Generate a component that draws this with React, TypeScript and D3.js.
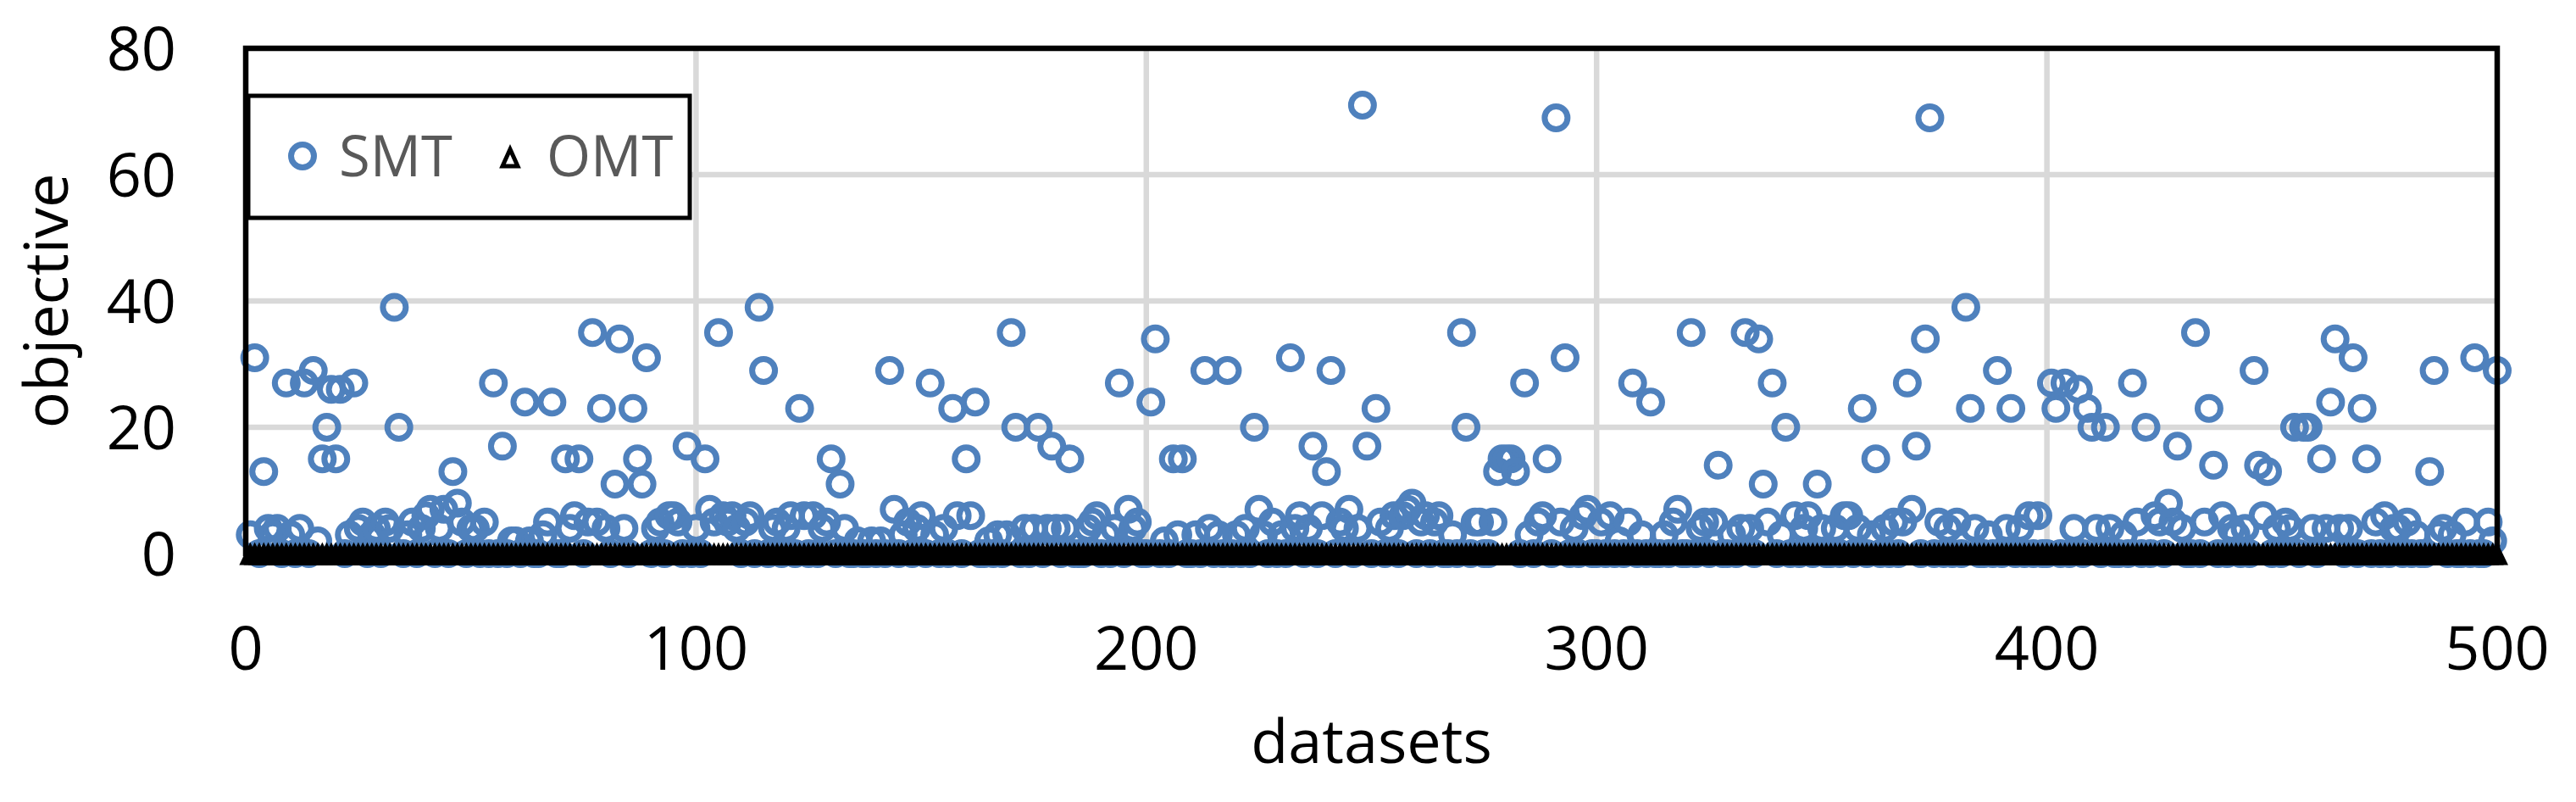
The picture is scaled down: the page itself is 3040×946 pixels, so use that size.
import * as d3 from 'd3';

// objective value per dataset (datasets 1..500)
const smt = [
  3, 31, 0, 13, 4, 3, 4, 0, 27, 3, 0, 4, 27, 0, 29, 2, 15, 20, 26, 15, 26, 0, 3, 27, 4,
  5, 0, 3, 4, 0, 5, 4, 39, 20, 0, 3, 5, 0, 4, 6, 7, 0, 4, 7, 0, 13, 8, 5, 0, 4,
  4, 0, 5, 0, 27, 0, 17, 0, 2, 2, 0, 24, 2, 0, 0, 3, 5, 24, 0, 0, 15, 4, 6, 15, 0,
  5, 35, 5, 23, 4, 0, 11, 34, 4, 0, 23, 15, 11, 31, 0, 4, 5, 0, 6, 6, 5, 0, 17, 0, 4,
  0, 15, 7, 5, 35, 6, 5, 6, 4, 0, 5, 6, 0, 39, 29, 0, 4, 5, 0, 4, 6, 0, 23, 6, 0,
  6, 0, 4, 5, 15, 0, 11, 4, 0, 0, 2, 0, 0, 2, 0, 2, 0, 29, 7, 0, 3, 5, 0, 4, 6,
  0, 27, 3, 0, 4, 0, 23, 6, 0, 15, 6, 24, 0, 0, 2, 0, 3, 0, 3, 35, 20, 0, 4, 0, 4,
  20, 0, 4, 17, 4, 0, 4, 15, 0, 0, 0, 4, 5, 6, 0, 3, 0, 4, 27, 0, 7, 4, 5, 0, 0,
  24, 34, 0, 2, 0, 15, 3, 15, 0, 0, 3, 0, 29, 4, 0, 3, 0, 29, 0, 3, 0, 4, 0, 20, 7,
  3, 0, 5, 0, 3, 0, 31, 4, 6, 0, 4, 17, 0, 6, 13, 29, 0, 5, 4, 7, 0, 4, 71, 17, 0,
  23, 5, 0, 4, 6, 0, 6, 7, 8, 0, 5, 6, 0, 5, 6, 0, 0, 3, 0, 35, 20, 0, 5, 5, 0,
  0, 5, 13, 15, 15, 15, 13, 0, 27, 3, 0, 5, 6, 15, 0, 69, 5, 31, 0, 4, 0, 6, 7, 0, 0,
  5, 0, 6, 0, 2, 0, 5, 27, 0, 3, 0, 24, 0, 0, 3, 0, 5, 7, 0, 0, 35, 0, 4, 5, 0,
  5, 14, 0, 0, 3, 0, 4, 35, 4, 0, 34, 11, 5, 27, 0, 3, 20, 0, 6, 0, 4, 6, 0, 11, 4,
  0, 0, 4, 0, 6, 6, 0, 4, 23, 0, 3, 15, 0, 4, 0, 5, 0, 5, 27, 7, 17, 0, 34, 69, 0,
  5, 0, 4, 0, 5, 0, 39, 23, 4, 0, 0, 3, 0, 29, 0, 4, 23, 0, 4, 0, 6, 0, 6, 0, 0,
  27, 23, 0, 27, 0, 4, 26, 0, 23, 20, 4, 0, 20, 4, 0, 0, 3, 0, 27, 5, 0, 20, 0, 6, 5,
  0, 8, 5, 17, 4, 0, 0, 35, 0, 5, 23, 14, 0, 6, 0, 4, 3, 0, 4, 0, 29, 14, 6, 13, 0,
  4, 0, 5, 4, 20, 0, 20, 20, 4, 0, 15, 4, 24, 34, 4, 0, 4, 31, 0, 23, 15, 0, 5, 0, 6,
  0, 4, 4, 0, 5, 0, 3, 0, 0, 13, 29, 3, 4, 0, 3, 0, 0, 5, 0, 31, 0, 0, 5, 2, 29,
];

const omt = [
  0, 0, 0, 0, 0, 0, 0, 0, 0, 0, 0, 0, 0, 0, 0, 0, 0, 0, 0, 0, 0, 0, 0, 0, 0,
  0, 0, 0, 0, 0, 0, 0, 0, 0, 0, 0, 0, 0, 0, 0, 0, 0, 0, 0, 0, 0, 0, 0, 0, 0,
  0, 0, 0, 0, 0, 0, 0, 0, 0, 0, 0, 0, 0, 0, 0, 0, 0, 0, 0, 0, 0, 0, 0, 0, 0,
  0, 0, 0, 0, 0, 0, 0, 0, 0, 0, 0, 0, 0, 0, 0, 0, 0, 0, 0, 0, 0, 0, 0, 0, 0,
  0, 0, 0, 0, 0, 0, 0, 0, 0, 0, 0, 0, 0, 0, 0, 0, 0, 0, 0, 0, 0, 0, 0, 0, 0,
  0, 0, 0, 0, 0, 0, 0, 0, 0, 0, 0, 0, 0, 0, 0, 0, 0, 0, 0, 0, 0, 0, 0, 0, 0,
  0, 0, 0, 0, 0, 0, 0, 0, 0, 0, 0, 0, 0, 0, 0, 0, 0, 0, 0, 0, 0, 0, 0, 0, 0,
  0, 0, 0, 0, 0, 0, 0, 0, 0, 0, 0, 0, 0, 0, 0, 0, 0, 0, 0, 0, 0, 0, 0, 0, 0,
  0, 0, 0, 0, 0, 0, 0, 0, 0, 0, 0, 0, 0, 0, 0, 0, 0, 0, 0, 0, 0, 0, 0, 0, 0,
  0, 0, 0, 0, 0, 0, 0, 0, 0, 0, 0, 0, 0, 0, 0, 0, 0, 0, 0, 0, 0, 0, 0, 0, 0,
  0, 0, 0, 0, 0, 0, 0, 0, 0, 0, 0, 0, 0, 0, 0, 0, 0, 0, 0, 0, 0, 0, 0, 0, 0,
  0, 0, 0, 0, 0, 0, 0, 0, 0, 0, 0, 0, 0, 0, 0, 0, 0, 0, 0, 0, 0, 0, 0, 0, 0,
  0, 0, 0, 0, 0, 0, 0, 0, 0, 0, 0, 0, 0, 0, 0, 0, 0, 0, 0, 0, 0, 0, 0, 0, 0,
  0, 0, 0, 0, 0, 0, 0, 0, 0, 0, 0, 0, 0, 0, 0, 0, 0, 0, 0, 0, 0, 0, 0, 0, 0,
  0, 0, 0, 0, 0, 0, 0, 0, 0, 0, 0, 0, 0, 0, 0, 0, 0, 0, 0, 0, 0, 0, 0, 0, 0,
  0, 0, 0, 0, 0, 0, 0, 0, 0, 0, 0, 0, 0, 0, 0, 0, 0, 0, 0, 0, 0, 0, 0, 0, 0,
  0, 0, 0, 0, 0, 0, 0, 0, 0, 0, 0, 0, 0, 0, 0, 0, 0, 0, 0, 0, 0, 0, 0, 0, 0,
  0, 0, 0, 0, 0, 0, 0, 0, 0, 0, 0, 0, 0, 0, 0, 0, 0, 0, 0, 0, 0, 0, 0, 0, 0,
  0, 0, 0, 0, 0, 0, 0, 0, 0, 0, 0, 0, 0, 0, 0, 0, 0, 0, 0, 0, 0, 0, 0, 0, 0,
  0, 0, 0, 0, 0, 0, 0, 0, 0, 0, 0, 0, 0, 0, 0, 0, 0, 0, 0, 0, 0, 0, 0, 0, 0,
];

const xTicks = [0, 100, 200, 300, 400, 500];
const yTicks = [0, 20, 40, 60, 80];
const seriesNames = ['SMT', 'OMT'];

const width = 3040,
  height = 946,
  marginTop = 57,
  marginRight = 93,
  marginBottom = 293,
  marginLeft = 290;

const font = '"Open Sans", "Noto Sans", sans-serif';
const blue = '#4F81BD';
const grid = '#D9D9D9';

const triangle = 'M0,-13.5L13,13.5L-13,13.5Z';

export default function App() {
  const x = d3
    .scaleLinear()
    .domain([0, 500])
    .range([marginLeft, width - marginRight]);
  const y = d3
    .scaleLinear()
    .domain([0, 80])
    .range([height - marginBottom, marginTop]);

  const [x0, x1] = x.range();
  const [y0, y1] = y.range();

  return (
    <svg
      width={width}
      height={height}
      viewBox={`0 0 ${width} ${height}`}
      style={{ position: 'absolute', left: 0, top: 0, background: '#fff' }}
      fontFamily={font}
    >
      <rect width={width} height={height} fill="#fff" />
      {/* gridlines */}
      {yTicks
        .filter((t) => t > 0 && t < 80)
        .map((t) => (
          <line key={'gy' + t} x1={x0} x2={x1} y1={y(t)} y2={y(t)} stroke={grid} strokeWidth={6.5} />
        ))}
      {xTicks
        .filter((t) => t > 0 && t < 500)
        .map((t) => (
          <line key={'gx' + t} x1={x(t)} x2={x(t)} y1={y1} y2={y0} stroke={grid} strokeWidth={6.5} />
        ))}

      {/* SMT */}
      <g fill="none" stroke={blue} strokeWidth={7}>
        {smt.map((v, i) => (
          <circle key={i} cx={x(i + 1)} cy={y(v)} r={13.5} />
        ))}
      </g>

      {/* OMT */}
      <g fill="#000">
        {omt.map((v, i) => (
          <path key={i} d={triangle} transform={`translate(${x(i + 1)},${y(v)})`} />
        ))}
      </g>

      {/* plot border */}
      <rect x={x0} y={y1} width={x1 - x0} height={y0 - y1} fill="none" stroke="#000" strokeWidth={6.5} />

      {/* y ticks */}
      {yTicks.map((t) => (
        <text key={'yt' + t} x={208} y={y(t) + 26} textAnchor="end" fontSize={72} fill="#000">
          {t}
        </text>
      ))}
      {/* x ticks */}
      {xTicks.map((t) => (
        <text key={'xt' + t} x={x(t)} y={790} textAnchor="middle" fontSize={72} fill="#000">
          {t}
        </text>
      ))}

      <text x={(x0 + x1) / 2} y={900} textAnchor="middle" fontSize={72} fill="#000">
        datasets
      </text>
      <text
        transform={`translate(80,${(y0 + y1) / 2}) rotate(-90)`}
        textAnchor="middle"
        fontSize={72}
        fill="#000"
      >
        objective
      </text>

      {/* legend */}
      <g>
        <rect x={293} y={113} width={521} height={144} fill="#fff" stroke="#000" strokeWidth={5} />
        <circle cx={357} cy={184} r={13.5} fill="none" stroke={blue} strokeWidth={7} />
        <text x={400} y={208} fontSize={67} fill="#595959">
          {seriesNames[0]}
        </text>
        <path d="M0,-10L9,10L-9,10Z" transform="translate(602,186)" fill="#fff" stroke="#000" strokeWidth={5} strokeLinejoin="miter" />
        <text x={645} y={208} fontSize={67} fill="#595959">
          {seriesNames[1]}
        </text>
      </g>
    </svg>
  );
}
